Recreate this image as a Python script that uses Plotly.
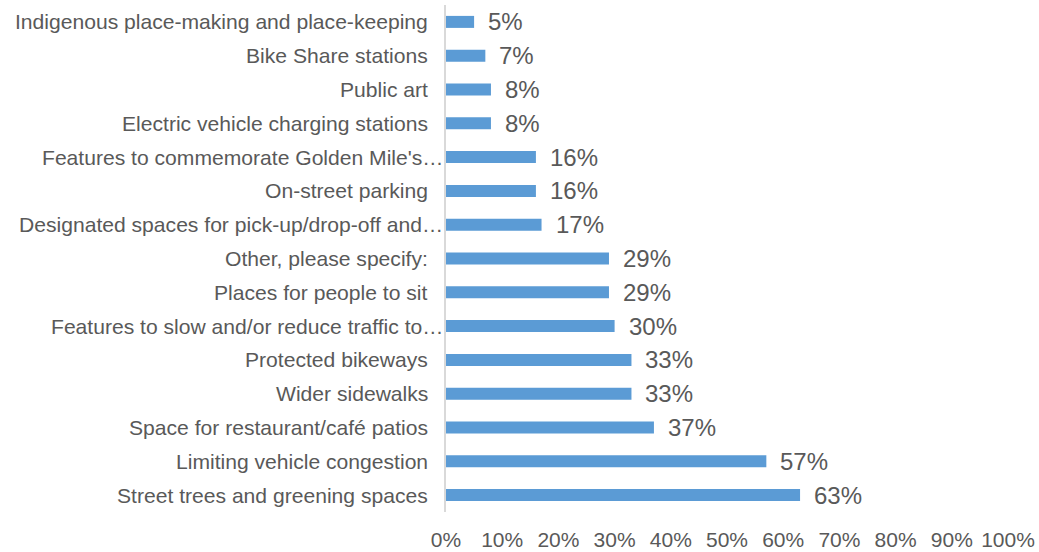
import plotly.graph_objects as go

categories = [
    "Indigenous place-making and place-keeping",
    "Bike Share stations",
    "Public art",
    "Electric vehicle charging stations",
    "Features to commemorate Golden Mile's…",
    "On-street parking",
    "Designated spaces for pick-up/drop-off and…",
    "Other, please specify:",
    "Places for people to sit",
    "Features to slow and/or reduce traffic to…",
    "Protected bikeways",
    "Wider sidewalks",
    "Space for restaurant/café patios",
    "Limiting vehicle congestion",
    "Street trees and greening spaces",
]
values = [5, 7, 8, 8, 16, 16, 17, 29, 29, 30, 33, 33, 37, 57, 63]
tick_values = [0, 10, 20, 30, 40, 50, 60, 70, 80, 90, 100]
tick_labels = [f"{v}%" for v in tick_values]

text_color = "#595959"
font_family = "Liberation Sans, Arial, sans-serif"

fig = go.Figure(
    go.Bar(
        x=values,
        y=categories,
        orientation="h",
        marker=dict(color="#5B9BD5", line=dict(width=0)),
        width=0.355,
        hoverinfo="x+y",
    )
)

# category labels; shortened ones run right up to the axis line
for cat in categories:
    fig.add_annotation(
        x=0,
        y=cat,
        xref="paper",
        yref="y",
        text=cat,
        showarrow=False,
        xanchor="right",
        yanchor="middle",
        xshift=-1 if cat.endswith("…") else -16,
        font=dict(size=21.1, color=text_color, family=font_family),
    )

# value labels placed just past the end of each bar
for cat, val in zip(categories, values):
    fig.add_annotation(
        x=val,
        y=cat,
        xref="x",
        yref="y",
        text=f"{val}%",
        showarrow=False,
        xanchor="left",
        yanchor="middle",
        xshift=12,
        font=dict(size=24, color=text_color, family=font_family),
    )

fig.update_layout(
    width=1039,
    height=552,
    margin=dict(l=446, r=31, t=5, b=40, autoexpand=False),
    paper_bgcolor="white",
    plot_bgcolor="white",
    showlegend=False,
    font=dict(family=font_family, color=text_color),
)

fig.update_xaxes(
    range=[0, 100],
    tickvals=tick_values,
    ticktext=tick_labels,
    showgrid=False,
    zeroline=False,
    showline=False,
    automargin=False,
    tickfont=dict(size=21, color=text_color),
    ticklabelstandoff=13,
)

fig.update_yaxes(
    autorange="reversed",
    showgrid=False,
    showline=True,
    linecolor="#d9d9d9",
    linewidth=1.5,
    automargin=False,
    showticklabels=False,
)

fig.write_html("out.html")
